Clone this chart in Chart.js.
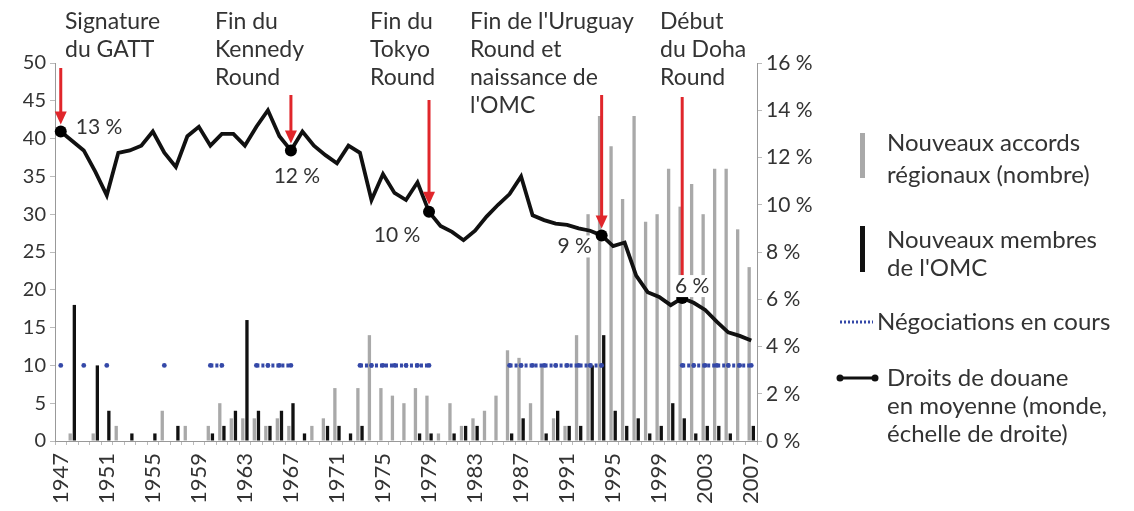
<!DOCTYPE html>
<html>
<head>
<meta charset="utf-8">
<script src="https://cdn.jsdelivr.net/npm/chart.js@4.4.1/dist/chart.umd.min.js"></script>
<style>
  html, body { margin: 0; padding: 0; background: #fff; }
  #wrap { position: relative; width: 1134px; height: 511px; }
</style>
</head>
<body>
<div id="wrap"><canvas id="chart"></canvas></div>
<script>
// years on the x axis
var years = [1947,1948,1949,1950,1951,1952,1953,1954,1955,1956,1957,1958,1959,1960,1961,1962,
  1963,1964,1965,1966,1967,1968,1969,1970,1971,1972,1973,1974,1975,1976,1977,1978,1979,1980,
  1981,1982,1983,1984,1985,1986,1987,1988,1989,1990,1991,1992,1993,1994,1995,1996,1997,1998,
  1999,2000,2001,2002,2003,2004,2005,2006,2007];

// nouveaux accords regionaux (nombre), grey bars
var regional = [0,1,0,1,0,2,0,0,0,4,0,2,0,2,5,3,
  3,3,2,3,2,0,2,3,7,0,7,14,7,6,5,7,6,1,
  5,2,3,4,6,12,11,5,10,3,2,14,30,43,39,32,43,29,
  30,36,31,34,30,36,36,28,23];

// nouveaux membres de l'OMC, black bars
var members = [0,18,0,10,4,0,1,0,1,0,2,0,0,1,2,4,
  16,4,2,4,5,1,0,2,2,1,2,0,0,0,0,1,1,0,
  1,2,2,0,0,1,3,0,1,4,2,2,10,14,4,2,3,1,
  2,5,3,1,2,2,1,0,2];

// negociations en cours (drawn at 10 on left axis), null = none
var negotiations = [10,null,10,null,10,null,null,null,null,10,null,null,null,10,10,null,
  null,10,10,10,10,null,null,null,null,null,10,10,10,10,10,10,10,null,
  null,null,null,null,null,10,10,10,10,10,10,10,10,10,null,null,null,null,
  null,null,10,10,10,10,10,10,10];

// droits de douane en moyenne (%), right axis
var tariffs = [13.1,12.7,12.3,11.4,10.4,12.2,12.3,12.5,13.1,12.2,11.6,12.9,13.3,12.5,13.0,13.0,
  12.5,13.3,14.0,12.9,12.3,13.1,12.5,12.1,11.75,12.5,12.2,10.2,11.3,10.5,10.2,10.95,9.7,9.1,
  8.85,8.5,8.9,9.5,10.0,10.45,11.2,9.55,9.35,9.2,9.15,9.0,8.9,8.7,8.25,8.4,7.0,6.3,
  6.1,5.75,6.05,5.85,5.55,5.05,4.6,4.45,4.25];

var markYears = [1947, 1967, 1979, 1994, 2001];
var markLabels = ['13 %', '12 %', '10 %', '9 %', '6 %'];

var eventTexts = [
  ['Signature', 'du GATT'],
  ['Fin du', 'Kennedy', 'Round'],
  ['Fin du', 'Tokyo', 'Round'],
  ["Fin de l'Uruguay", 'Round et', 'naissance de', "l'OMC"],
  ['Début', 'du Doha', 'Round']
];

var leftTicks = [0,5,10,15,20,25,30,35,40,45,50];
var rightTicks = [0,2,4,6,8,10,12,14,16];

var FONT = 'Lato, "Open Sans", sans-serif';
var TXT = '#333';
var RED = '#e0262b';
var BLUE = '#3448a8';

// where the texts sit (pixels), one entry per event
var eventX = [65, 215, 370, 470, 660];
var arrowTop = [68, 95, 100, 95, 97];
var labelOff = [[15, -4, 'left'], [6, 26, 'center'], [-32, 23, 'center'], [-27, 11, 'center'], [10, -12, 'center']];

function drawArrow(c, x, y0, y1) {
    c.strokeStyle = RED;
    c.fillStyle = RED;
    c.lineWidth = 3;
    c.beginPath();
    c.moveTo(x, y0);
    c.lineTo(x, y1 - 10);
    c.stroke();
    c.beginPath();
    c.moveTo(x - 6, y1 - 13);
    c.lineTo(x + 6, y1 - 13);
    c.lineTo(x, y1);
    c.closePath();
    c.fill();
}

var extras = {
    id: 'extras',
    afterDatasetsDraw: function(chart) {
        var c = chart.ctx;
        var xs = chart.scales.x, ys = chart.scales.y2;
        c.save();
        c.textBaseline = 'middle';

        // events above the plot, with arrows
        for (var i = 0; i < markYears.length; i++) {
            var idx = years.indexOf(markYears[i]);
            var px = xs.getPixelForValue(idx);
            var py = ys.getPixelForValue(tariffs[idx]);
            drawArrow(c, px, arrowTop[i], py - 7);

            c.font = '23px ' + FONT;
            c.fillStyle = TXT;
            c.textAlign = 'left';
            var lines = eventTexts[i];
            for (var j = 0; j < lines.length; j++) {
                c.fillText(lines[j], eventX[i], 22 + j * 28);
            }

            // value label next to the point
            c.font = '21px ' + FONT;
            var o = labelOff[i];
            c.textAlign = o[2];
            var w = c.measureText(markLabels[i]).width;
            var lx = px + o[0], ly = py + o[1];
            var bx = o[2] == 'left' ? lx : lx - w / 2;
            c.fillStyle = '#fff';
            c.fillRect(bx - 2, ly - 11, w + 4, 22);
            c.fillStyle = TXT;
            c.fillText(markLabels[i], lx, ly);
        }

        // legend
        c.textAlign = 'left';
        c.fillStyle = '#a9a9a9';
        c.fillRect(860, 133, 5, 45);
        c.fillStyle = '#111';
        c.fillRect(860, 226, 5, 46);
        c.strokeStyle = BLUE;
        c.lineWidth = 3;
        c.setLineDash([2, 2]);
        c.beginPath(); c.moveTo(840, 322); c.lineTo(873, 322); c.stroke();
        c.setLineDash([]);
        c.strokeStyle = '#111';
        c.lineWidth = 3;
        c.beginPath(); c.moveTo(840, 378); c.lineTo(874, 378); c.stroke();
        c.fillStyle = '#111';
        c.beginPath(); c.arc(840, 378, 3.5, 0, Math.PI * 2); c.fill();
        c.beginPath(); c.arc(875, 378, 3.5, 0, Math.PI * 2); c.fill();

        c.font = '24px ' + FONT;
        c.fillStyle = TXT;
        c.fillText('Nouveaux accords', 887, 143);
        c.fillText('régionaux (nombre)', 887, 175);
        c.fillText('Nouveaux membres', 887, 240);
        c.fillText("de l'OMC", 887, 268);
        c.fillText('Négociations en cours', 877, 322);
        c.fillText('Droits de douane', 887, 378);
        c.fillText('en moyenne (monde,', 887, 406);
        c.fillText('échelle de droite)', 887, 434);
        c.restore();
    }
};

var ctx = document.getElementById('chart').getContext('2d');
new Chart(ctx, {
    type: 'bar',
    data: {
        labels: years,
        datasets: [
            {
                type: 'line', label: 'Droits de douane', data: tariffs, yAxisID: 'y2',
                borderColor: '#111', borderWidth: 3.8, tension: 0, order: 0,
                pointRadius: function(cx) { return markYears.indexOf(years[cx.dataIndex]) >= 0 ? 6 : 0; },
                pointBackgroundColor: '#000', pointBorderWidth: 0
            },
            {
                type: 'line', label: 'Négociations en cours', data: negotiations, yAxisID: 'y',
                borderColor: BLUE, borderWidth: 4, borderDash: [3, 2], spanGaps: false, order: 1,
                pointRadius: 2.4, pointBackgroundColor: BLUE, pointBorderWidth: 0
            },
            {
                label: 'Nouveaux accords régionaux', data: regional, yAxisID: 'y',
                backgroundColor: '#a9a9a9', categoryPercentage: 0.72, barPercentage: 0.8, order: 2
            },
            {
                label: "Nouveaux membres de l'OMC", data: members, yAxisID: 'y',
                backgroundColor: '#111', categoryPercentage: 0.72, barPercentage: 0.8, order: 3
            }
        ]
    },
    options: {
        responsive: true,
        maintainAspectRatio: false,
        animation: false,
        layout: { padding: { top: 63, right: 307, left: 0, bottom: 0 } },
        plugins: { legend: { display: false }, tooltip: { enabled: false } },
        scales: {
            x: {
                offset: true,
                grid: { drawOnChartArea: false, tickLength: 4, color: '#bbb' },
                border: { color: '#999' },
                ticks: {
                    autoSkip: false, minRotation: 90, maxRotation: 90, color: TXT, padding: 8,
                    font: { family: FONT, size: 22 },
                    callback: function(v, i) { return (years[i] - 1947) % 4 == 0 ? String(years[i]) : ''; }
                },
                afterFit: function(s) { s.height = 70; }
            },
            y: {
                position: 'left', min: 0, max: 50,
                grid: { drawOnChartArea: false, tickLength: 5, color: '#bbb' },
                border: { color: '#999' },
                afterBuildTicks: function(s) { s.ticks = leftTicks.map(function(v) { return { value: v }; }); },
                ticks: { color: TXT, padding: 4, font: { family: FONT, size: 20 } },
                afterFit: function(s) { s.width = 55; }
            },
            y2: {
                position: 'right', min: 0, max: 16,
                grid: { drawOnChartArea: false, tickLength: 5, color: '#bbb' },
                border: { color: '#999' },
                afterBuildTicks: function(s) { s.ticks = rightTicks.map(function(v) { return { value: v }; }); },
                ticks: {
                    color: TXT, padding: 4, font: { family: FONT, size: 21 },
                    callback: function(v) { return v + ' %'; }
                },
                afterFit: function(s) { s.width = 70; }
            }
        }
    },
    plugins: [extras]
});
</script>
</body>
</html>
